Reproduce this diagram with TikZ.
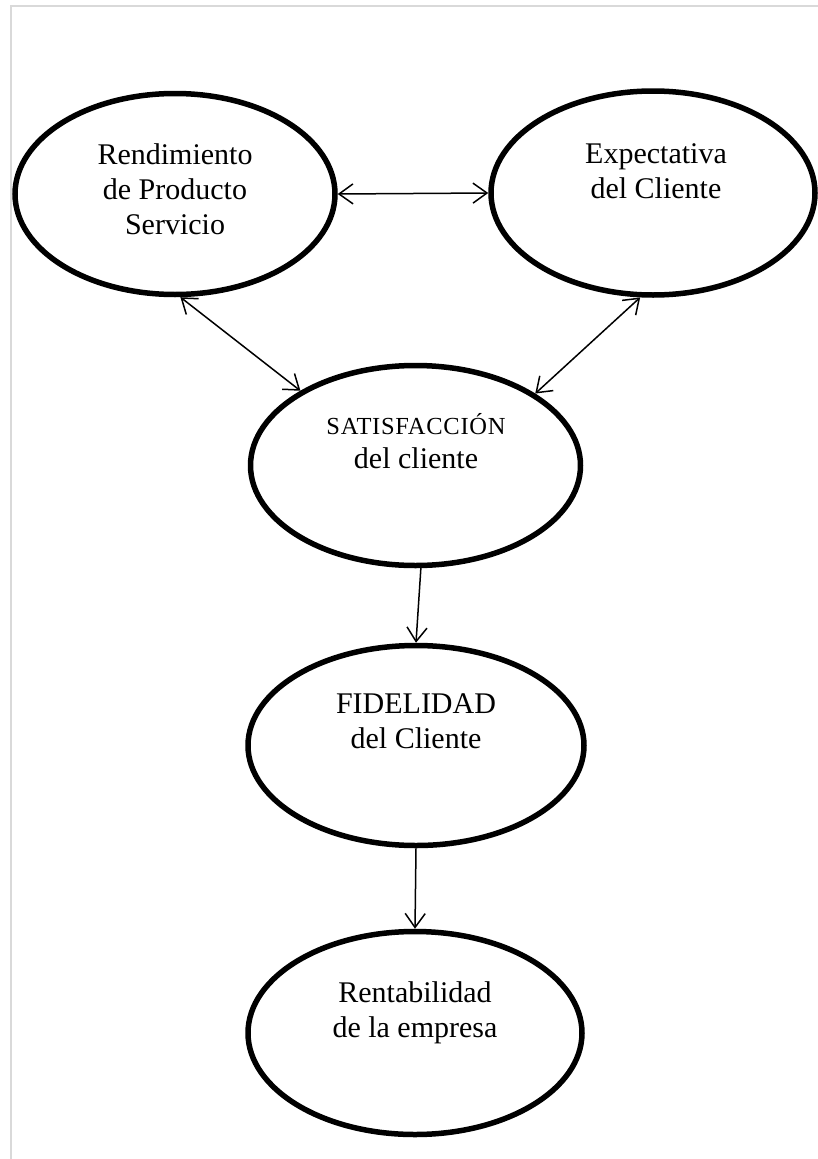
\documentclass[tikz,border=0pt]{standalone}
\usepackage{fontspec}
\setmainfont{Liberation Serif}
\usetikzlibrary{shapes.geometric,arrows.meta}

\begin{document}
\begin{tikzpicture}[x=1pt,y=-1pt,
  bubble/.style={ellipse,draw=black,line width=5.5pt,inner sep=0pt},
  caption/.style={anchor=base,align=center,font=\fontsize{30}{35}\selectfont,inner sep=0pt},
  link/.style={line width=1.5pt,{Straight Barb[length=14pt,width=20pt]}-{Straight Barb[length=14pt,width=20pt]}},
  flow/.style={line width=1.5pt,-{Straight Barb[length=14pt,width=20pt]}},
  frame/.style={draw=black!15,line width=2pt}]

  % page area
  \useasboundingbox (0,0) rectangle (818,1159);
  \fill[white] (0,0) rectangle (818,1159);
  \draw[frame] (10.5,1159) -- (10.5,6) -- (818,6);

  % bubbles
  \node[bubble,minimum width=320pt,minimum height=201pt] (rend) at (175,194) {};
  \node[bubble,minimum width=324pt,minimum height=204pt] (expe) at (653,193) {};
  \node[bubble,minimum width=330pt,minimum height=200pt] (sati) at (415.5,465.5) {};
  \node[bubble,minimum width=336pt,minimum height=200pt] (fide) at (416,745.5) {};
  \node[bubble,minimum width=334pt,minimum height=203pt] (rent) at (415,1033) {};

  % captions (anchored on the baseline of their last line)
  \node[caption] (trend) at (175,234) {Rendimiento\\de Producto\\Servicio};
  \node[caption] (texpe) at (656,198) {Expectativa\\del Cliente};
  \node[caption,font=\fontsize{24.5}{34}\selectfont\addfontfeature{LetterSpace=3}] (tsati1) at (416,434) {SATISFACCIÓN};
  \node[caption] (tsati2) at (416,468) {del cliente};
  \node[caption] (tfide) at (416,748) {FIDELIDAD\\del Cliente};
  \node[caption] (trent) at (415,1037) {Rentabilidad\\de la empresa};

  % connectors
  \draw[link] (rend.0) -- (expe.180);
  \draw[link] (rend.-87) -- (sati.147);
  \draw[link] (expe.-97) -- (sati.31.6);
  \draw[flow] (sati.-87) -- (fide.90);
  \draw[flow] (fide.-90) -- (rent.90);
\end{tikzpicture}
\end{document}
